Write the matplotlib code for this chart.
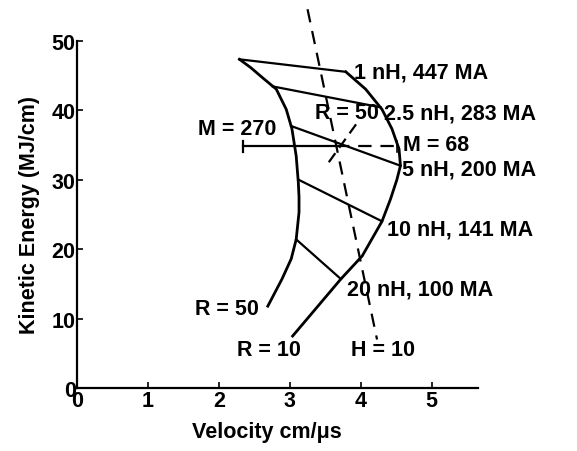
import matplotlib
matplotlib.use("Agg")
import matplotlib.pyplot as plt

plt.rcParams["font.family"] = ["Liberation Sans", "DejaVu Sans"]
plt.rcParams["font.weight"] = "bold"
plt.rcParams["axes.labelweight"] = "bold"

# R = 50 curve (left)
r50_x = [2.29, 2.45, 2.61, 2.81, 2.95, 3.03, 3.09, 3.12, 3.13, 3.13, 3.09, 3.02, 2.89, 2.69]
r50_y = [47.3, 46.1, 44.7, 43.0, 40.1, 37.3, 33.4, 29.6, 27.5, 25.3, 21.4, 18.6, 15.7, 11.8]

# R = 10 curve (right)
r10_x = [3.79, 4.07, 4.30, 4.44, 4.54, 4.56, 4.51, 4.42, 4.30, 4.02, 3.72, 3.04]
r10_y = [45.5, 43.0, 40.1, 37.3, 34.4, 32.0, 30.0, 27.2, 24.0, 19.0, 15.7, 7.5]

# constant inductance lines: (x_left, y_left, x_right, y_right)
ind_lines = [
    (2.29, 47.3, 3.79, 45.5),
    (2.76, 43.4, 4.28, 40.4),
    (3.02, 37.7, 4.56, 32.0),
    (3.12, 30.0, 4.30, 24.0),
    (3.09, 21.4, 3.72, 15.7),
]
ind_labels = ["1 nH, 447 MA", "2.5 nH, 283 MA", "5 nH, 200 MA",
              "10 nH, 141 MA", "20 nH, 100 MA"]
ind_label_pos = [(3.91, 45.5), (4.33, 39.6), (4.58, 31.5), (4.37, 22.9), (3.81, 14.2)]

# H = 10 dashed line
h10_x = [3.25, 4.23]
h10_y = [54.5, 7.0]

# mass bar
m_x = [2.34, 3.65, 4.51]
m_y = [34.8, 34.8, 34.8]

# dashed R = 50 segment through the crossing
rd_x = [3.55, 3.98]
rd_y = [32.5, 38.6]

fs = 15.5

fig = plt.figure(figsize=(5.77, 4.52), dpi=100)
ax = fig.add_axes([0.1335, 0.139, 0.6945, 0.846])

ax.plot(r50_x, r50_y, color="black", lw=2.0, solid_joinstyle="round")
ax.plot(r10_x, r10_y, color="black", lw=2.0, solid_joinstyle="round")
for (x0, y0, x1, y1) in ind_lines:
    ax.plot([x0, x1], [y0, y1], color="black", lw=1.6)
for lab, (tx, ty) in zip(ind_labels, ind_label_pos):
    ax.text(tx, ty, lab, fontsize=fs, va="center", ha="left")

ax.plot(h10_x, h10_y, color="black", lw=1.6, dashes=(6, 4))
ax.plot(m_x[:2], m_y[:2], color="black", lw=1.6)
ax.plot(m_x[1:], m_y[1:], color="black", lw=1.6, dashes=(6, 4))
ax.plot([m_x[0]] * 2, [m_y[0] - 0.8, m_y[0] + 0.8], color="black", lw=1.6)
ax.plot([m_x[2]] * 2, [m_y[2] - 0.8, m_y[2] + 0.8], color="black", lw=1.2)
ax.plot(rd_x, rd_y, color="black", lw=1.6, dashes=(5, 3))

ax.text(1.70, 37.3, "M = 270", fontsize=fs, va="center")
ax.text(4.60, 35.1, "M = 68", fontsize=fs, va="center")
ax.text(3.35, 39.6, "R = 50", fontsize=fs, va="center")
ax.text(1.66, 11.5, "R = 50", fontsize=fs, va="center")
ax.text(2.26, 5.5, "R = 10", fontsize=fs, va="center")
ax.text(3.86, 5.5, "H = 10", fontsize=fs, va="center")

ax.set_xlim(0, 5.65)
ax.set_ylim(0, 55)
ax.spines["top"].set_visible(False)
ax.spines["right"].set_visible(False)
ax.spines["left"].set_bounds(0, 50)
for s in ("left", "bottom"):
    ax.spines[s].set_linewidth(1.6)
ax.set_xticks([0, 1, 2, 3, 4, 5])
ax.set_yticks([0, 10, 20, 30, 40, 50])
ax.tick_params(direction="in", length=4, width=1.2, labelsize=fs, pad=1)
ax.set_xlabel("Velocity cm/\u03bcs", fontsize=fs)
ax.set_ylabel("Kinetic Energy (MJ/cm)", fontsize=fs)
ax.xaxis.set_label_coords(0.474, -0.086)
ax.yaxis.set_label_coords(-0.092, 0.455)

fig.savefig("out.png", dpi=100)
